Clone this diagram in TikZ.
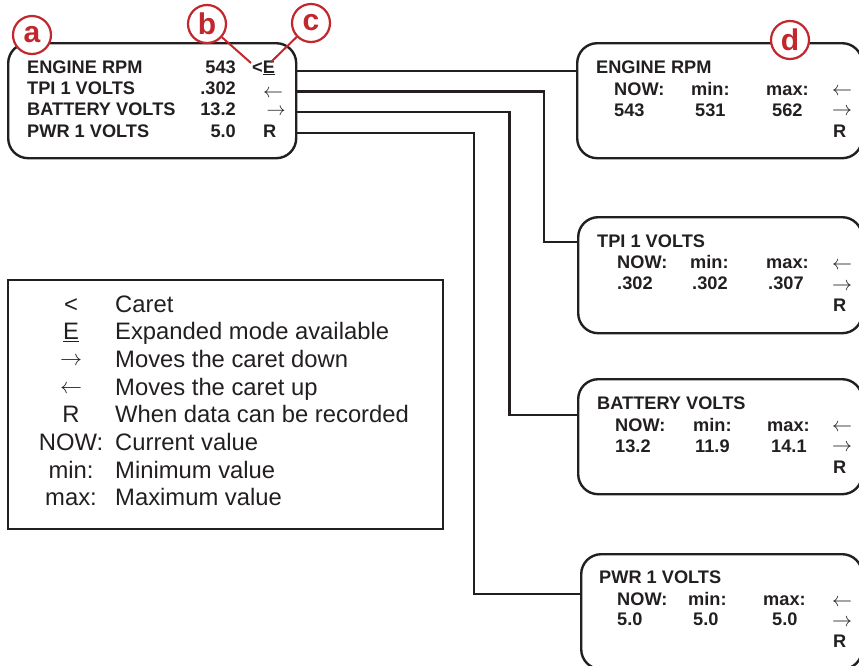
\RequirePackage{fix-cm}
\documentclass[tikz,border=0pt]{standalone}
\usepackage{fontspec}
\usepackage{graphicx}
\setmainfont{Liberation Sans}
\definecolor{ink}{HTML}{231F20}
\definecolor{mred}{HTML}{C1272D}
\newcommand{\larr}[1]{\resizebox{#1}{!}{$\leftarrow$}}
\newcommand{\rarr}[1]{\resizebox{#1}{!}{$\rightarrow$}}
\tikzset{
 panel/.style={draw=ink, line width=2.4pt, rounded corners=20pt, inner sep=0pt, anchor=north west},
 legendbox/.style={draw=ink, line width=2.2pt, inner sep=0pt, anchor=north west},
 wire/.style={draw=ink, line width=2.2pt},
 bt/.style={font=\fontsize{18.2}{20}\selectfont\bfseries, text=ink, inner sep=0pt, anchor=base west},
 arw/.style={text=ink, inner sep=0pt, anchor=center},
 bte/.style={font=\fontsize{18.2}{20}\selectfont\bfseries, text=ink, inner sep=0pt, anchor=base east},
 lt/.style={font=\fontsize{23.8}{26}\selectfont, text=ink, inner sep=0pt, anchor=base west},
 ltc/.style={font=\fontsize{23.8}{26}\selectfont, text=ink, inner sep=0pt, anchor=base},
 callout/.style={circle, draw=mred, line width=2.2pt, fill=white, minimum size=38pt, inner sep=0pt, text=mred, font=\fontsize{30}{31}\selectfont\bfseries},
 calline/.style={draw=mred, line width=2pt},
}
\begin{document}
\begin{tikzpicture}[x=1pt,y=-1pt]
\useasboundingbox (0,0) rectangle (859,665);
% main display
\node[panel, minimum width=288pt, minimum height=115pt] (L) at (7,42) {};
\node[bt] (l1) at (27,73) {ENGINE RPM};
\node[bt] (l2) at (27,94) {TPI 1 VOLTS};
\node[bt] (l3) at (27,115) {BATTERY VOLTS};
\node[bt] (l4) at (27,137) {PWR 1 VOLTS};
\node[bte] (v1) at (236,73) {543};
\node[bte] (v2) at (236,94) {.302};
\node[bte] (v3) at (236,115) {13.2};
\node[bte] (v4) at (236,137) {5.0};
\node[bt] (car) at (252,73) {<\underline{E}};
\node[arw] (la) at (273,94) {\larr{20pt}};
\node[arw] (ra) at (276,112.5) {\rarr{19pt}};
\node[bt] (rr) at (263,137) {R};
% right panels
\node[panel, minimum width=285pt, minimum height=115pt] (R1) at (576,42) {};
\node[panel, minimum width=284pt, minimum height=116pt] (R2) at (577,216) {};
\node[panel, minimum width=284pt, minimum height=115pt] (R3) at (577,378) {};
\node[panel, minimum width=281pt, minimum height=115pt] (R4) at (580,553) {};
% panel 1
\node[bt] (t1) at (596,73) {ENGINE RPM};
\node[bt] (n1) at (614,95) {NOW:};
\node[bt] (m1) at (691,95) {min:};
\node[bt] (x1) at (766,95) {max:};
\node[bt] (a1) at (614,116) {543};
\node[bt] (b1) at (695,116) {531};
\node[bt] (c1) at (772,116) {562};
\node[arw] (la1) at (842,91.7) {\larr{20pt}};
\node[arw] (ra1) at (842,111.7) {\rarr{20pt}};
\node[bt] (r1) at (833,137) {R};
% panel 2
\node[bt] (t2) at (597,247) {TPI 1 VOLTS};
\node[bt] (n2) at (617,268) {NOW:};
\node[bt] (m2) at (690,268) {min:};
\node[bt] (x2) at (766,268) {max:};
\node[bt] (a2) at (617,289) {.302};
\node[bt] (b2) at (692,289) {.302};
\node[bt] (c2) at (768,289) {.307};
\node[arw] (la2) at (842,266) {\larr{20pt}};
\node[arw] (ra2) at (842,286.5) {\rarr{20pt}};
\node[bt] (r2) at (833,311) {R};
% panel 3
\node[bt] (t3) at (597,409) {BATTERY VOLTS};
\node[bt] (n3) at (615,431) {NOW:};
\node[bt] (m3) at (693,431) {min:};
\node[bt] (x3) at (767,431) {max:};
\node[bt] (a3) at (615,452) {13.2};
\node[bt] (b3) at (695,452) {11.9};
\node[bt] (c3) at (771,452) {14.1};
\node[arw] (la3) at (842,428) {\larr{20pt}};
\node[arw] (ra3) at (842,448.3) {\rarr{20pt}};
\node[bt] (r3) at (833,473) {R};
% panel 4
\node[bt] (t4) at (599,583) {PWR 1 VOLTS};
\node[bt] (n4) at (617,605) {NOW:};
\node[bt] (m4) at (688,605) {min:};
\node[bt] (x4) at (763,605) {max:};
\node[bt] (a4) at (617,625) {5.0};
\node[bt] (b4) at (693,625) {5.0};
\node[bt] (c4) at (772,625) {5.0};
\node[arw] (la4) at (842,603) {\larr{20pt}};
\node[arw] (ra4) at (842,623) {\rarr{20pt}};
\node[bt] (r4) at (833,647) {R};
% connectors
\draw[wire] (L.east |- 0,70.7) -- (R1.west |- 0,70.7);
\draw[wire] (L.east |- 0,91.5) -| (544,242) -- (R2.west |- 0,242);
\draw[wire] (L.east |- 0,112.3) -| (509.5,415) -- (R3.west |- 0,415);
\draw[wire] (L.east |- 0,132.7) -| (474,594) -- (R4.west |- 0,594);
% legend
\node[legendbox, minimum width=435pt, minimum height=249pt] (G) at (7,279) {};
\node[ltc] (g1s) at (71,312) {<};
\node[lt] (g1) at (115,312) {Caret};
\node[ltc] (g2s) at (71,339.7) {\underline{E}};
\node[lt] (g2) at (115,339.7) {Expanded mode available};
\node[arw] (g3s) at (71,361) {\rarr{22pt}};
\node[lt] (g3) at (115,367.4) {Moves the caret down};
\node[arw] (g4s) at (71,389) {\larr{22pt}};
\node[lt] (g4) at (115,395.1) {Moves the caret up};
\node[ltc] (g5s) at (71,422.8) {R};
\node[lt] (g5) at (115,422.8) {When data can be recorded};
\node[ltc] (g6s) at (71,450.5) {NOW:};
\node[lt] (g6) at (115,450.5) {Current value};
\node[ltc] (g7s) at (71,478.2) {min:};
\node[lt] (g7) at (115,478.2) {Minimum value};
\node[ltc] (g8s) at (71,505.9) {max:};
\node[lt] (g8) at (115,505.9) {Maximum value};
% callouts
\coordinate (bend) at (251,63);
\coordinate (cend) at (271,62);
\node[callout] (ca) at (32,35) {a};
\node[callout] (cb) at (207,24) {b};
\node[callout] (cc) at (311,23) {c};
\node[callout] (cd) at (790,40) {d};
\draw[calline] (cb) -- (bend);
\draw[calline] (cc) -- (cend);
\end{tikzpicture}
\end{document}
